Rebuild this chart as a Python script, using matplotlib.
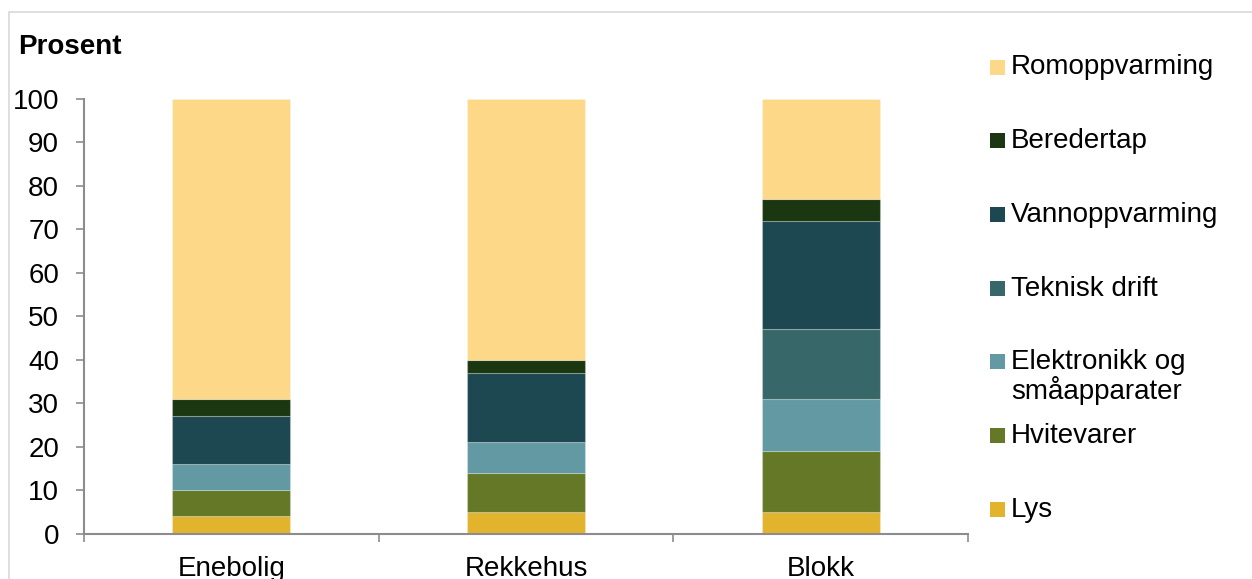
import matplotlib.pyplot as plt
from matplotlib.patches import Rectangle

plt.rcParams['font.family'] = ['Liberation Sans', 'DejaVu Sans']

# Energy use by building type, share in percent (stacked bottom to top)
categories = ['Enebolig', 'Rekkehus', 'Blokk']
series_names = ['Lys', 'Hvitevarer', 'Elektronikk og\nsmåapparater', 'Teknisk drift',
                'Vannoppvarming', 'Beredertap', 'Romoppvarming']
lys = [4, 5, 5]
hvitevarer = [6, 9, 14]
elektronikk = [6, 7, 12]
teknisk_drift = [0, 0, 16]
vannoppvarming = [11, 16, 25]
beredertap = [4, 3, 5]
romoppvarming = [69, 60, 23]
colors = ['#E2B32C', '#647828', '#6299A2', '#386769', '#1D4751', '#1B3712', '#FDD888']

values = [lys, hvitevarer, elektronikk, teknisk_drift, vannoppvarming, beredertap, romoppvarming]

fig = plt.figure(figsize=(12.52, 5.79), dpi=100)
ax = fig.add_axes([84 / 1252, 1 - 533.5 / 579, (968 - 84) / 1252, (533.5 - 99) / 579])

x = list(range(len(categories)))
bottom = [0] * len(categories)
for name, vals, col in zip(series_names, values, colors):
    ax.bar(x, vals, width=0.4, bottom=bottom, color=col,
           edgecolor=(1, 1, 1, 0.25), linewidth=0.8, label=name)
    bottom = [b + v for b, v in zip(bottom, vals)]

ax.set_xlim(-0.5, 2.5)
ax.set_ylim(0, 100)
ax.set_yticks(range(0, 101, 10))
ax.set_xticks(x)
ax.set_xticklabels(categories)
ax.set_xticks([-0.5, 0.5, 1.5, 2.5], minor=True)

grey = '#8C8C8C'
for s in ['top', 'right']:
    ax.spines[s].set_visible(False)
for s in ['left', 'bottom']:
    ax.spines[s].set_color(grey)
    ax.spines[s].set_linewidth(1.5)

ax.tick_params(axis='y', direction='out', length=6, width=1.2, color=grey,
               labelsize=20, pad=12)
ax.tick_params(axis='x', which='major', length=0, labelsize=20, pad=16)
ax.tick_params(axis='x', which='minor', direction='out', length=6, width=1.2, color=grey)

fig.text(18 / 1252, 1 - 47 / 579, 'Prosent', fontsize=20, fontweight='bold',
         ha='left', va='center')

# legend drawn by hand: top entry first, evenly spaced
legend_top = 67
step = 73.7
for i, (name, col) in enumerate(zip(series_names[::-1], colors[::-1])):
    yc = legend_top + i * step
    fig.patches.append(Rectangle((990 / 1252, 1 - (yc + 7.5) / 579), 15 / 1252, 15 / 579,
                                 transform=fig.transFigure, facecolor=col, edgecolor='none'))
    fig.text(1011 / 1252, 1 - (yc - 12.5) / 579, name, fontsize=20, ha='left', va='top',
             linespacing=1.05)

# light frame around the chart area
fig.patches.append(Rectangle((9 / 1252, -0.1), 1.2, 1.1 - 12 / 579,
                             transform=fig.transFigure, facecolor='none',
                             edgecolor='#D9D9D9', linewidth=1.2))

fig.savefig('out.png', dpi=100)
